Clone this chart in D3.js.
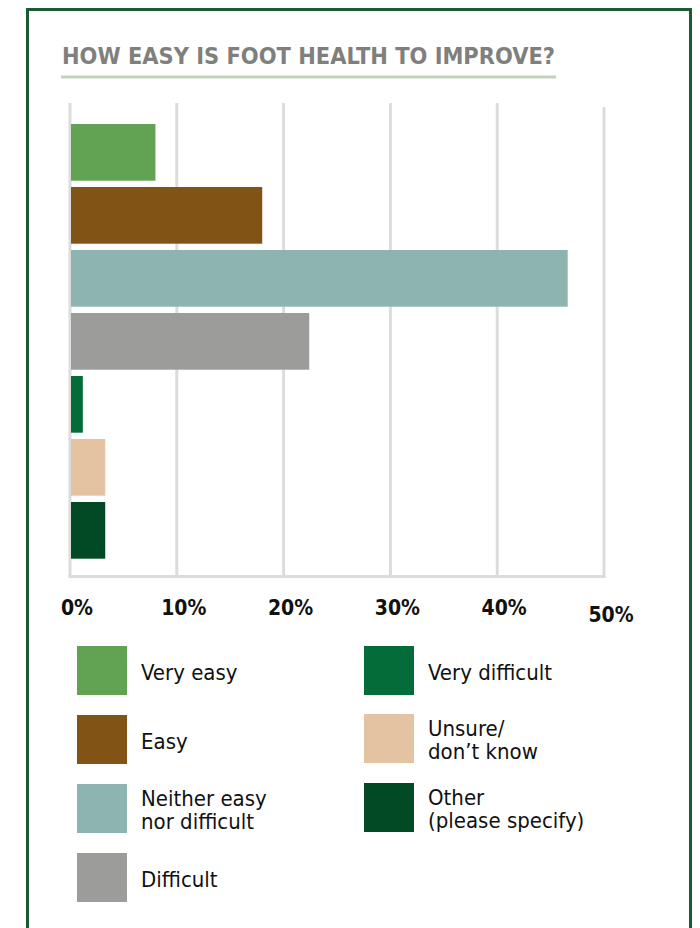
<!DOCTYPE html>
<html>
<head>
<meta charset="utf-8">
<script src="https://cdn.jsdelivr.net/npm/d3@7"></script>
<style>
  html, body { margin: 0; padding: 0; background: #fff; }
  svg { display: block; }
</style>
</head>
<body>
<svg id="chart" width="700" height="928"></svg>
<script>
const title = "HOW EASY IS FOOT HEALTH TO IMPROVE?";
const categories = ["Very easy", "Easy", "Neither easy nor difficult", "Difficult", "Very difficult", "Unsure/ don't know", "Other (please specify)"];
const values = [8.0, 18.0, 46.6, 22.4, 1.2, 3.3, 3.3];
const colors = ["#61a352", "#815416", "#8eb4b2", "#9c9c9b", "#036c38", "#e4c3a2", "#024a25"];
const legendLines = [["Very easy"], ["Easy"], ["Neither easy", "nor difficult"], ["Difficult"], ["Very difficult"], ["Unsure/", "don’t know"], ["Other", "(please specify)"]];
const tickValues = [0, 10, 20, 30, 40, 50];
const tickLabels = ["0%", "10%", "20%", "30%", "40%", "50%"];

const svg = d3.select("#chart");
const font = "'DejaVu Sans Condensed', 'Liberation Sans Narrow', 'Roboto', sans-serif";

// frame
svg.append("path")
  .attr("d", "M27.5,930 L27.5,9.5 L690.5,9.5 L690.5,930")
  .attr("fill", "none").attr("stroke", "#1b5a34").attr("stroke-width", 3);

// title
svg.append("text")
  .attr("x", 62).attr("y", 64)
  .attr("font-family", font).attr("font-weight", "bold").attr("font-size", 23)
  .attr("fill", "#7f7f7e").attr("textLength", 493).attr("lengthAdjust", "spacingAndGlyphs")
  .text(title);
svg.append("line")
  .attr("x1", 61).attr("x2", 556).attr("y1", 77).attr("y2", 77)
  .attr("stroke", "#c3d1bd").attr("stroke-width", 3);

const x = d3.scaleLinear().domain([0, 50]).range([70, 604]);
const y = d3.scaleBand().domain(categories).range([120.85, 561.85]).paddingInner(0.1).paddingOuter(0.05);

// gridlines
const grid = svg.append("g");
grid.selectAll("line.g").data(tickValues).enter().append("line")
  .attr("x1", d => x(d)).attr("x2", d => x(d))
  .attr("y1", d => d === 50 ? 107 : 103).attr("y2", 577)
  .attr("stroke", "#dcdcdc").attr("stroke-width", 3);
grid.append("line")
  .attr("x1", x(0) - 1.5).attr("x2", x(50) + 1.5).attr("y1", 576.5).attr("y2", 576.5)
  .attr("stroke", "#dcdcdc").attr("stroke-width", 3);

// bars
svg.append("g").selectAll("rect").data(categories).enter().append("rect")
  .attr("x", x(0) + 1)
  .attr("y", d => y(d))
  .attr("width", (d, i) => x(values[i]) - x(0) - 1)
  .attr("height", y.bandwidth())
  .attr("fill", (d, i) => colors[i]);

// tick labels
svg.append("g").selectAll("text").data(tickValues).enter().append("text")
  .attr("x", d => x(d) + 7)
  .attr("y", d => d === 50 ? 622 : 615)
  .attr("text-anchor", "middle")
  .attr("font-family", font).attr("font-weight", "bold").attr("font-size", 21)
  .attr("fill", "#111")
  .text((d, i) => tickLabels[i]);

// legend
const legend = svg.append("g");
const legPos = [
  {sx: 77, sy: 646, tx: 141}, {sx: 77, sy: 715, tx: 141}, {sx: 77, sy: 784, tx: 141}, {sx: 77, sy: 853, tx: 141},
  {sx: 364, sy: 646, tx: 428}, {sx: 364, sy: 714, tx: 428}, {sx: 364, sy: 783, tx: 428}
];
categories.forEach((c, i) => {
  const p = legPos[i];
  legend.append("rect").attr("x", p.sx).attr("y", p.sy).attr("width", 50).attr("height", 49).attr("fill", colors[i]);
  const lines = legendLines[i];
  const base = lines.length === 1 ? p.sy + 34 : p.sy + 22;
  lines.forEach((l, j) => {
    legend.append("text")
      .attr("x", p.tx).attr("y", base + j * 23)
      .attr("font-family", font).attr("font-size", 22).attr("fill", "#111")
      .text(l);
  });
});
</script>
</body>
</html>
